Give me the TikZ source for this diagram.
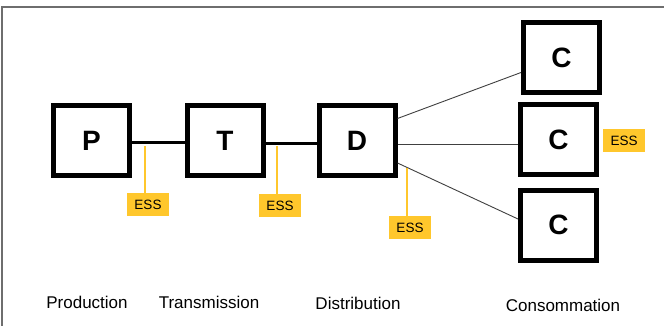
\documentclass[tikz,border=0pt]{standalone}
\usepackage{fontspec}
\setmainfont{Liberation Sans}
\definecolor{essyellow}{HTML}{FFC72C}
\definecolor{framegray}{HTML}{6E6E6E}
\definecolor{wiregray}{HTML}{404040}
\begin{document}
\begin{tikzpicture}[x=1pt,y=-1pt,
  unitbox/.style={draw=black,line width=5pt,fill=white,minimum width=76pt,minimum height=70pt,inner sep=0pt,font=\fontsize{28}{30}\selectfont\bfseries},
  essbox/.style={fill=essyellow,minimum width=42pt,minimum height=23pt,inner sep=0pt,font=\fontsize{13.5}{15}\selectfont},
  essline/.style={draw=essyellow,line width=2pt},
  mainwire/.style={draw=black,line width=3pt},
  thinwire/.style={draw=wiregray,line width=0.9pt},
  stagelabel/.style={font=\fontsize{17}{19}\selectfont,inner sep=0pt}]
\useasboundingbox (0,0) rectangle (664,326);
\fill[white] (0,0) rectangle (664,326);
\draw[framegray,line width=1.5pt] (2,326) -- (2,7) -- (664,7);

\coordinate (w1) at (0,143);
\coordinate (w2) at (0,144);

\node[unitbox] (P) at (91.5,140.5) {P};
\node[unitbox] (T) at (225,140.5) {T};
\node[unitbox] (D) at (357,140.5) {D};
\node[unitbox] (C1) at (561.5,57.5) {C};
\node[unitbox] (C2) at (558.5,139.5) {C};
\node[unitbox] (C3) at (558.5,225) {C};

\draw[mainwire] (P.east |- w1) -- (T.west |- w1);
\draw[mainwire] (T.east |- w2) -- (D.west |- w2);
\draw[thinwire] ([yshift=22pt]D.east) -- ([yshift=-15pt]C1.west);
\draw[thinwire] ([yshift=-3.5pt]D.east) -- ([yshift=-4.5pt]C2.west);
\draw[thinwire] ([yshift=-22.5pt]D.east) -- ([yshift=6pt]C3.west);

\node[essbox] (E1) at (148,204.5) {ESS};
\node[essbox] (E2) at (280,205.5) {ESS};
\node[essbox] (E3) at (410,227.5) {ESS};
\node[essbox] (E4) at (624,140.5) {ESS};

\coordinate (t1) at (145,146);
\coordinate (t2) at (277,146);
\coordinate (t3) at (407,168);
\draw[essline] (t1) -- (t1 |- E1.north);
\draw[essline] (t2) -- (t2 |- E2.north);
\draw[essline] (t3) -- (t3 |- E3.north);

\node[stagelabel] (Lp) at (87,302) {Production};
\node[stagelabel] (Lt) at (209,302) {Transmission};
\node[stagelabel] (Ld) at (358,303) {Distribution};
\node[stagelabel] (Lc) at (563,305) {Consommation};
\end{tikzpicture}
\end{document}
